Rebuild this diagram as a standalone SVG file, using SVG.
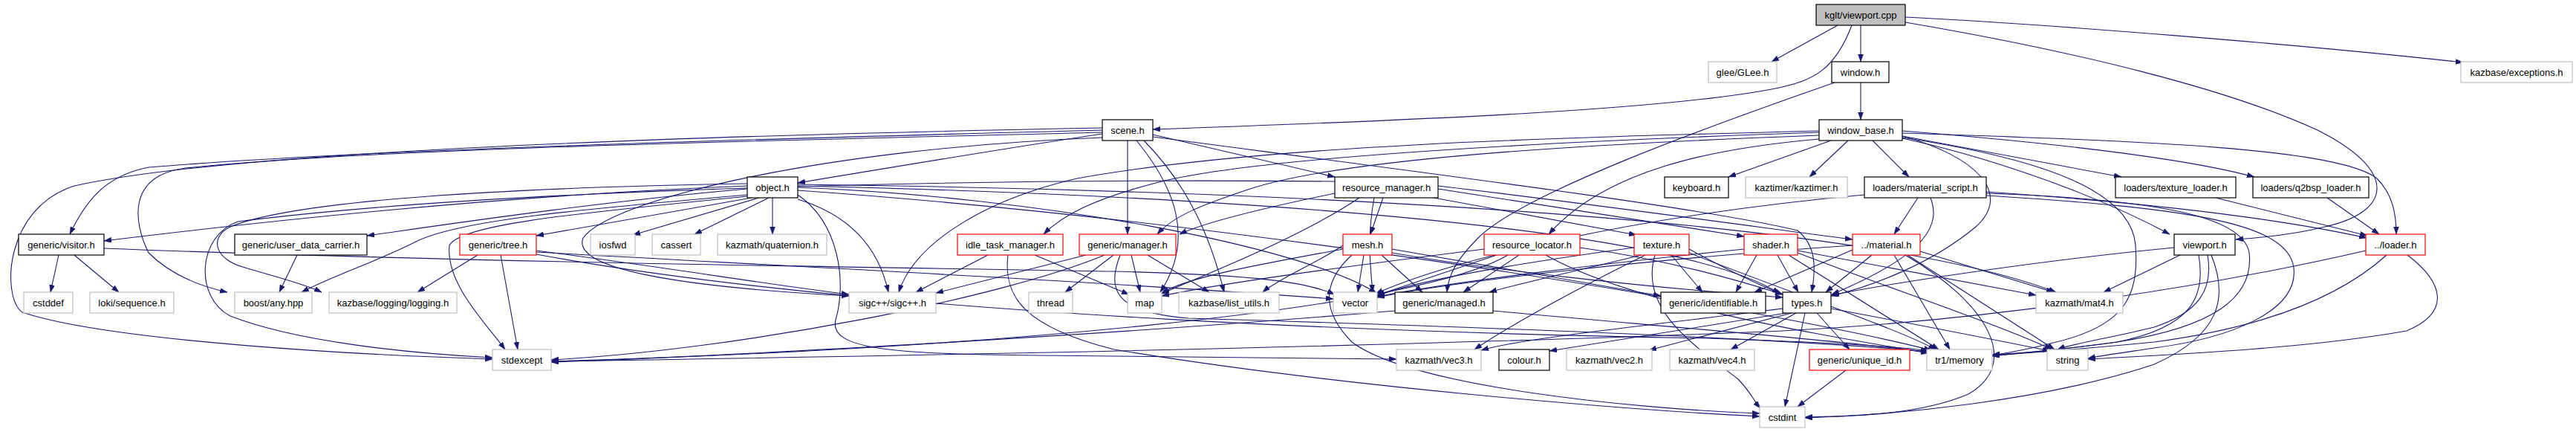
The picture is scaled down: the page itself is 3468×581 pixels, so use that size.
<svg xmlns="http://www.w3.org/2000/svg" width="3468" height="581" viewBox="0 0 3468 581">
<defs>
<marker id="a" markerUnits="userSpaceOnUse" markerWidth="11" markerHeight="8" refX="10" refY="3.5" orient="auto"><path d="M0,0 L10,3.5 L0,7 z" fill="#191970" stroke="#191970" stroke-width="0.5"/></marker>
</defs>
<style>
.nd rect{fill:#fff;stroke:#000;stroke-width:1.2}
.nd.g rect{stroke:#bfbfbf}
.nd.r rect{stroke:#ff0000}
.nd.root rect{fill:#bfbfbf}
.nd text{font-family:"Liberation Sans",Arial,sans-serif;font-size:13px;text-anchor:middle;fill:#000}
#edges path{fill:none;stroke:#191970;stroke-width:1.1;marker-end:url(#a)}
</style>
<rect x="0" y="0" width="3468" height="581" fill="#fff"/>
<g id="edges">
<path d="M2474,34 L2385,83"/>
<path d="M2505,34 L2505,83"/>
<path d="M2493,34 C2470,95 2440,108 2395,118 C2250,148 1900,162 1552,174"/>
<path d="M2565,23 C2750,32 3100,60 3316,84"/>
<path d="M2565,30 C2800,70 3000,120 3120,175 C3230,230 3220,285 3130,305 C3090,315 3040,320 3010,322"/>
<path d="M2505,111 L2505,161"/>
<path d="M2470,111 C2300,170 2050,260 1990,320 C1960,350 1950,370 1948,393"/>
<path d="M2465,189 L2327,238"/>
<path d="M2488,189 L2436,238"/>
<path d="M2521,189 L2570,238"/>
<path d="M2561,183 L2856,238"/>
<path d="M2561,176 C2800,195 2950,215 3035,238"/>
<path d="M2561,186 C2650,205 2800,250 2921,315"/>
<path d="M2561,179 C2900,190 3150,200 3200,240 C3222,262 3226,290 3226,315"/>
<path d="M2561,183 C2660,210 2710,260 2660,305 C2600,355 2520,385 2465,398"/>
<path d="M2449,187 C2300,200 2160,230 2085,315"/>
<path d="M2449,178 C2100,190 1700,210 1560,245 C1470,268 1430,290 1405,315"/>
<path d="M2449,176 C2100,185 1700,195 1450,240 C1320,270 1230,330 1210,393"/>
<path d="M2561,185 C2760,215 2870,260 2875,330 C2880,400 2860,440 2760,462 C2730,470 2700,475 2682,478"/>
<path d="M2449,182 C2100,195 1800,215 1680,255 C1620,275 1580,290 1558,315"/>
<path d="M1484,180 C1350,200 1200,225 1074,246"/>
<path d="M1552,181 L1797,238"/>
<path d="M1518,189 L1518,315"/>
<path d="M1530,189 C1580,250 1610,320 1562,393"/>
<path d="M1540,189 C1600,250 1630,320 1648,393"/>
<path d="M1484,175 C1100,185 500,200 200,225 C150,235 120,260 94,315"/>
<path d="M1484,178 C1000,190 500,200 250,226 C170,236 180,300 200,340 C230,370 270,385 306,393"/>
<path d="M1484,172 C900,183 300,205 100,250 C5,280 2,400 30,420 C150,460 500,478 663,483"/>
<path d="M1484,185 C1100,200 820,270 785,320 C770,360 900,385 1143,398"/>
<path d="M1552,184 C1900,230 2300,280 2420,310 C2445,330 2445,360 2439,393"/>
<path d="M1006,250 C700,262 400,292 140,324"/>
<path d="M1006,254 C800,272 600,302 494,317"/>
<path d="M1012,266 L722,317"/>
<path d="M1022,266 L852,316"/>
<path d="M1035,266 L935,315"/>
<path d="M1040,266 L1040,315"/>
<path d="M1006,262 C800,280 620,295 560,325 C500,355 450,370 406,393"/>
<path d="M1006,247 C700,252 400,268 310,305 C280,320 290,350 330,360 C370,372 410,382 433,393"/>
<path d="M643,343 L562,393"/>
<path d="M1006,264 C800,285 620,300 605,330 C600,380 650,430 680,470"/>
<path d="M1797,244 C1400,240 700,250 320,298 C265,318 262,400 310,425 C400,460 550,475 663,481"/>
<path d="M1074,268 C1130,285 1180,320 1196,393"/>
<path d="M1074,262 C1130,300 1140,380 1125,430 C1115,470 1200,476 1400,478 C1600,480 1800,481 1880,483"/>
<path d="M1074,252 C1400,265 1750,330 1853,394"/>
<path d="M1074,250 C1600,262 2250,300 2396,395"/>
<path d="M1074,248 C1700,256 2500,290 2768,393"/>
<path d="M1074,256 C1700,300 2400,420 2600,471"/>
<path d="M674,343 L697,470"/>
<path d="M722,337 C900,360 1050,385 1143,396"/>
<path d="M722,339 C1100,360 1500,380 1795,402"/>
<path d="M722,342 C1200,430 2000,450 2300,455 C2450,460 2550,465 2596,472"/>
<path d="M79,343 L68,393"/>
<path d="M100,343 L160,393"/>
<path d="M140,334 C600,352 1200,360 1500,365 C1700,370 1760,380 1797,396"/>
<path d="M400,343 L376,393"/>
<path d="M1330,343 L1233,393"/>
<path d="M1393,343 L1520,396"/>
<path d="M1357,343 C1350,400 1380,440 1500,470 C1800,520 2200,552 2369,560"/>
<path d="M1462,343 L1260,394"/>
<path d="M1499,343 L1434,393"/>
<path d="M1523,343 L1535,393"/>
<path d="M1545,343 L1628,393"/>
<path d="M1487,343 C1350,400 1000,470 742,484"/>
<path d="M1508,343 C1490,390 1500,420 1600,428 C2000,440 2400,455 2598,473"/>
<path d="M1836,343 L1828,393"/>
<path d="M1860,343 L1915,393"/>
<path d="M1808,335 C1700,355 1600,372 1564,394"/>
<path d="M1808,330 C1780,350 1720,375 1700,393"/>
<path d="M1874,335 L2236,398"/>
<path d="M1820,343 C1790,370 1770,410 1820,460 C1900,520 2200,550 2369,556"/>
<path d="M1874,340 C2000,362 2200,385 2400,400"/>
<path d="M1862,266 L1845,315"/>
<path d="M1797,260 C1700,280 1620,300 1588,315"/>
<path d="M1930,266 L2203,316"/>
<path d="M1936,254 L2348,318"/>
<path d="M1936,250 C2150,275 2400,310 2494,322"/>
<path d="M1830,266 C1750,320 1620,370 1564,395"/>
<path d="M1850,266 C1840,320 1845,360 1848,393"/>
<path d="M2045,343 L1970,393"/>
<path d="M2015,343 L1854,397"/>
<path d="M2081,343 C2200,410 2450,450 2596,475"/>
<path d="M1998,335 C1800,360 1650,380 1564,398"/>
<path d="M2127,333 C2250,350 2350,380 2400,396"/>
<path d="M2030,343 C1900,420 1300,470 742,486"/>
<path d="M2250,343 L2292,393"/>
<path d="M2210,343 C2120,365 2050,380 2005,393"/>
<path d="M2200,333 C2000,360 1900,380 1854,398"/>
<path d="M2215,343 C2100,400 2030,440 1985,470"/>
<path d="M2228,343 C2205,420 2290,470 2340,510 C2355,525 2362,540 2370,549"/>
<path d="M2274,335 C2320,360 2360,380 2400,396"/>
<path d="M2274,340 C2400,390 2550,440 2606,470"/>
<path d="M2365,343 L2337,393"/>
<path d="M2393,343 L2421,393"/>
<path d="M2348,335 C2150,355 1950,380 1854,399"/>
<path d="M2420,337 L2741,397"/>
<path d="M2408,343 L2610,470"/>
<path d="M2420,340 C2550,390 2700,440 2762,470"/>
<path d="M2494,336 L2362,393"/>
<path d="M2520,343 L2458,393"/>
<path d="M2585,338 L2765,393"/>
<path d="M2550,343 L2625,470"/>
<path d="M2568,343 L2766,470"/>
<path d="M2565,343 C2680,410 2720,490 2650,530 C2580,560 2480,560 2430,561"/>
<path d="M2494,330 C2200,350 1950,380 1854,400"/>
<path d="M2582,266 L2550,315"/>
<path d="M2599,266 C2612,300 2600,340 2466,396"/>
<path d="M2674,258 C2850,270 3050,290 3186,320"/>
<path d="M2510,262 C2200,290 1950,350 1852,395"/>
<path d="M2674,260 C2900,268 3020,290 3028,340 C3035,400 2980,440 2850,460 C2760,472 2710,476 2682,479"/>
<path d="M2674,263 C2950,280 3080,300 3088,360 C3095,420 3000,455 2900,468 C2860,474 2830,478 2811,482"/>
<path d="M2983,266 L3187,317"/>
<path d="M3133,266 L3203,315"/>
<path d="M2935,343 L2832,393"/>
<path d="M2927,333 C2750,350 2550,380 2466,397"/>
<path d="M2972,343 C2980,390 2960,420 2900,440 C2840,455 2790,462 2770,470"/>
<path d="M2977,343 C3000,400 2990,450 2900,490 C2750,540 2550,558 2430,562"/>
<path d="M2960,343 C2970,400 2950,440 2850,460 C2780,470 2720,475 2682,477"/>
<path d="M3241,343 C3290,380 3300,420 3240,445 C3100,470 2900,478 2811,483"/>
<path d="M3213,343 C3150,400 3050,440 2900,460 C2800,470 2720,475 2682,478"/>
<path d="M3185,337 C3000,380 2700,430 2400,445 C1800,470 1000,482 742,486"/>
<path d="M2400,415 C2200,440 2050,455 1994,471"/>
<path d="M2405,421 L2086,472"/>
<path d="M2412,421 L2220,471"/>
<path d="M2418,421 L2330,470"/>
<path d="M2446,421 L2490,470"/>
<path d="M2430,421 L2403,547"/>
<path d="M2465,415 C2600,440 2700,460 2760,472"/>
<path d="M2485,498 L2420,547"/>
<path d="M1878,418 C1500,450 1000,478 742,487"/>
<path d="M2010,418 C2250,440 2500,460 2596,474"/>
</g>
<g id="n_viewport_cpp" class="nd root"><rect x="2445" y="6" width="120" height="28"/><text x="2505" y="25">kglt/viewport.cpp</text></g>
<g id="n_glee" class="nd g"><rect x="2300" y="83" width="92" height="28"/><text x="2346" y="102">glee/GLee.h</text></g>
<g id="n_window" class="nd"><rect x="2466" y="83" width="77" height="28"/><text x="2504.5" y="102">window.h</text></g>
<g id="n_exceptions" class="nd g"><rect x="3313" y="83" width="150" height="28"/><text x="3388" y="102">kazbase/exceptions.h</text></g>
<g id="n_scene" class="nd"><rect x="1484" y="161" width="68" height="28"/><text x="1518" y="180">scene.h</text></g>
<g id="n_window_base" class="nd"><rect x="2449" y="161" width="112" height="28"/><text x="2505" y="180">window_base.h</text></g>
<g id="n_object" class="nd"><rect x="1006" y="238" width="68" height="28"/><text x="1040" y="257">object.h</text></g>
<g id="n_resource_manager" class="nd"><rect x="1797" y="238" width="139" height="28"/><text x="1866.5" y="257">resource_manager.h</text></g>
<g id="n_keyboard" class="nd"><rect x="2241" y="238" width="86" height="28"/><text x="2284" y="257">keyboard.h</text></g>
<g id="n_kaztimer" class="nd g"><rect x="2350" y="238" width="137" height="28"/><text x="2418.5" y="257">kaztimer/kaztimer.h</text></g>
<g id="n_material_script" class="nd"><rect x="2510" y="238" width="164" height="28"/><text x="2592" y="257">loaders/material_script.h</text></g>
<g id="n_texture_loader" class="nd"><rect x="2848" y="238" width="162" height="28"/><text x="2929" y="257">loaders/texture_loader.h</text></g>
<g id="n_q2bsp_loader" class="nd"><rect x="3033" y="238" width="156" height="28"/><text x="3111" y="257">loaders/q2bsp_loader.h</text></g>
<g id="n_visitor" class="nd"><rect x="25" y="315" width="115" height="28"/><text x="82.5" y="334">generic/visitor.h</text></g>
<g id="n_user_data_carrier" class="nd"><rect x="316" y="315" width="178" height="28"/><text x="405" y="334">generic/user_data_carrier.h</text></g>
<g id="n_tree" class="nd r"><rect x="619" y="315" width="103" height="28"/><text x="670.5" y="334">generic/tree.h</text></g>
<g id="n_iosfwd" class="nd g"><rect x="795" y="315" width="60" height="28"/><text x="825" y="334">iosfwd</text></g>
<g id="n_cassert" class="nd g"><rect x="878" y="315" width="65" height="28"/><text x="910.5" y="334">cassert</text></g>
<g id="n_quaternion" class="nd g"><rect x="966" y="315" width="147" height="28"/><text x="1039.5" y="334">kazmath/quaternion.h</text></g>
<g id="n_idle_task_manager" class="nd r"><rect x="1289" y="315" width="142" height="28"/><text x="1360" y="334">idle_task_manager.h</text></g>
<g id="n_manager" class="nd r"><rect x="1453" y="315" width="130" height="28"/><text x="1518" y="334">generic/manager.h</text></g>
<g id="n_mesh" class="nd r"><rect x="1808" y="315" width="66" height="28"/><text x="1841" y="334">mesh.h</text></g>
<g id="n_resource_locator" class="nd r"><rect x="1998" y="315" width="129" height="28"/><text x="2062.5" y="334">resource_locator.h</text></g>
<g id="n_texture" class="nd r"><rect x="2200" y="315" width="74" height="28"/><text x="2237" y="334">texture.h</text></g>
<g id="n_shader" class="nd r"><rect x="2348" y="315" width="72" height="28"/><text x="2384" y="334">shader.h</text></g>
<g id="n_material" class="nd r"><rect x="2494" y="315" width="91" height="28"/><text x="2539.5" y="334">../material.h</text></g>
<g id="n_viewport_h" class="nd"><rect x="2927" y="315" width="82" height="28"/><text x="2968" y="334">viewport.h</text></g>
<g id="n_loader" class="nd r"><rect x="3185" y="315" width="80" height="28"/><text x="3225" y="334">../loader.h</text></g>
<g id="n_cstddef" class="nd g"><rect x="32" y="393" width="66" height="28"/><text x="65" y="412">cstddef</text></g>
<g id="n_loki" class="nd g"><rect x="121" y="393" width="113" height="28"/><text x="177.5" y="412">loki/sequence.h</text></g>
<g id="n_boost_any" class="nd g"><rect x="316" y="393" width="104" height="28"/><text x="368" y="412">boost/any.hpp</text></g>
<g id="n_logging" class="nd g"><rect x="443" y="393" width="172" height="28"/><text x="529" y="412">kazbase/logging/logging.h</text></g>
<g id="n_sigc" class="nd g"><rect x="1143" y="393" width="117" height="28"/><text x="1201.5" y="412">sigc++/sigc++.h</text></g>
<g id="n_thread" class="nd g"><rect x="1385" y="393" width="59" height="28"/><text x="1414.5" y="412">thread</text></g>
<g id="n_map" class="nd g"><rect x="1518" y="393" width="46" height="28"/><text x="1541" y="412">map</text></g>
<g id="n_list_utils" class="nd g"><rect x="1587" y="393" width="135" height="28"/><text x="1654.5" y="412">kazbase/list_utils.h</text></g>
<g id="n_vector" class="nd g"><rect x="1795" y="393" width="59" height="28"/><text x="1824.5" y="412">vector</text></g>
<g id="n_managed" class="nd"><rect x="1878" y="393" width="132" height="28"/><text x="1944" y="412">generic/managed.h</text></g>
<g id="n_identifiable" class="nd"><rect x="2236" y="393" width="141" height="28"/><text x="2306.5" y="412">generic/identifiable.h</text></g>
<g id="n_types" class="nd"><rect x="2400" y="393" width="65" height="28"/><text x="2432.5" y="412">types.h</text></g>
<g id="n_mat4" class="nd g"><rect x="2741" y="393" width="117" height="28"/><text x="2799.5" y="412">kazmath/mat4.h</text></g>
<g id="n_stdexcept" class="nd g"><rect x="663" y="470" width="79" height="28"/><text x="702.5" y="489">stdexcept</text></g>
<g id="n_vec3" class="nd g"><rect x="1880" y="470" width="114" height="28"/><text x="1937" y="489">kazmath/vec3.h</text></g>
<g id="n_colour" class="nd"><rect x="2018" y="470" width="68" height="28"/><text x="2052" y="489">colour.h</text></g>
<g id="n_vec2" class="nd g"><rect x="2109" y="470" width="115" height="28"/><text x="2166.5" y="489">kazmath/vec2.h</text></g>
<g id="n_vec4" class="nd g"><rect x="2248" y="470" width="114" height="28"/><text x="2305" y="489">kazmath/vec4.h</text></g>
<g id="n_unique_id" class="nd r"><rect x="2436" y="470" width="135" height="28"/><text x="2503.5" y="489">generic/unique_id.h</text></g>
<g id="n_tr1_memory" class="nd g"><rect x="2594" y="470" width="88" height="28"/><text x="2638" y="489">tr1/memory</text></g>
<g id="n_string" class="nd g"><rect x="2756" y="470" width="55" height="28"/><text x="2783.5" y="489">string</text></g>
<g id="n_cstdint" class="nd g"><rect x="2369" y="547" width="61" height="28"/><text x="2399.5" y="566">cstdint</text></g>
</svg>
